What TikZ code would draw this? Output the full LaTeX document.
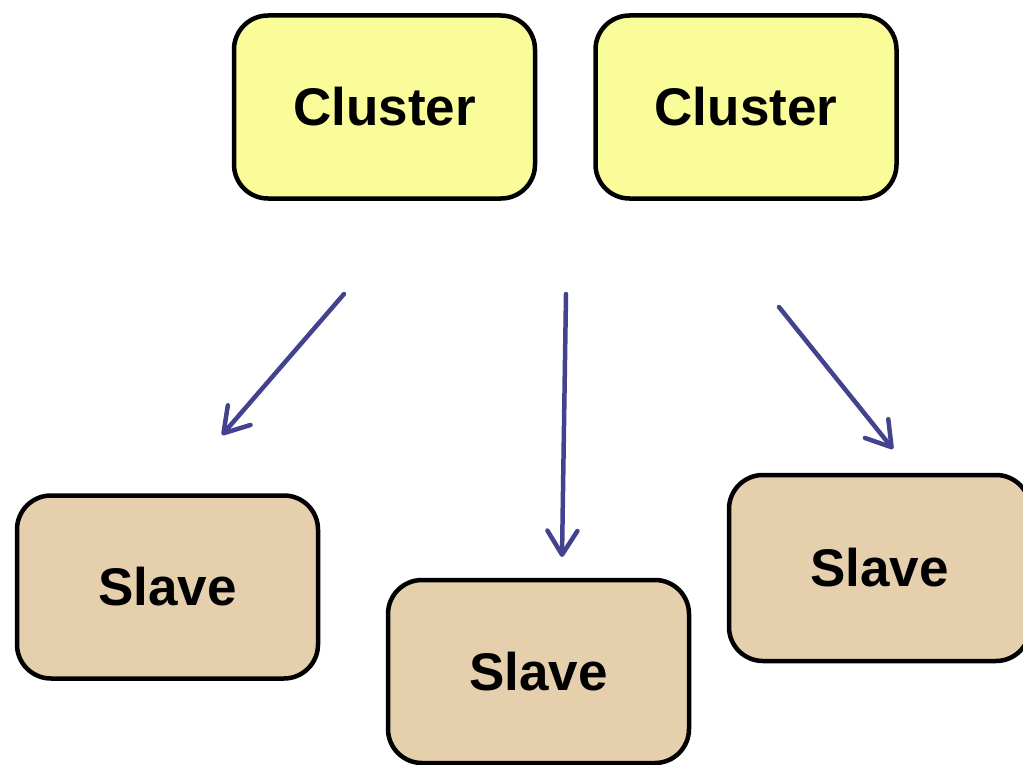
\documentclass[tikz,border=0pt]{standalone}
\usepackage{fontspec}
\setmainfont{Liberation Sans}
\usetikzlibrary{arrows.meta}
\definecolor{clusterfill}{HTML}{F9FC99}
\definecolor{slavefill}{HTML}{E5CFAD}
\definecolor{arrowblue}{HTML}{42428F}
\begin{document}
\begin{tikzpicture}[x=1pt,y=-1pt,
  box/.style={draw=black, line width=4.5pt, rounded corners=34pt, inner sep=0pt,
    minimum width=301pt, minimum height=183pt,
    font=\fontsize{53}{60}\selectfont\bfseries},
  clusterbox/.style={box, fill=clusterfill},
  slavebox/.style={box, fill=slavefill},
  link/.style={draw=arrowblue, line width=4.5pt, line cap=round,
    -{Straight Barb[length=24pt,width=30pt,line cap=round,line join=round]}}
]
\useasboundingbox (0,0) rectangle (1023,765);
\node[clusterbox] (c1) at (384.5,107) {Cluster};
\node[clusterbox] (c2) at (746,107) {Cluster};
\node[slavebox] (s1) at (167.5,587) {Slave};
\node[slavebox] (s2) at (538.5,671.5) {Slave};
\node[slavebox, minimum height=186pt] (s3) at (879.5,568) {Slave};
\coordinate (a1s) at (344,294);
\coordinate (a1e) at (222,435);
\coordinate (a2s) at (566,294);
\coordinate (a2e) at (562,557);
\coordinate (a3s) at (779,307);
\coordinate (a3e) at (893,449);
\draw[link] (a1s) -- (a1e);
\draw[link] (a2s) -- (a2e);
\draw[link] (a3s) -- (a3e);
\end{tikzpicture}
\end{document}
